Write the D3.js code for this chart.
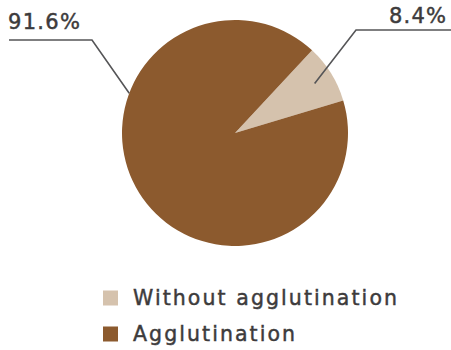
<!DOCTYPE html>
<html>
<head>
<meta charset="utf-8">
<script src="https://cdn.jsdelivr.net/npm/d3@7"></script>
<style>
  html, body { margin: 0; padding: 0; background: #fff; }
  svg { display: block; }
  text { font-family: "DejaVu Sans", sans-serif; fill: #3d3b3c; stroke: #3d3b3c; stroke-width: 0.45px; }
</style>
</head>
<body>
<svg id="chart" width="451" height="350"></svg>
<script>
// Share of samples with and without agglutination (percent)
const categories = ["Without agglutination", "Agglutination"];
const values = [8.4, 91.6];
const valueLabels = ["8.4%", "91.6%"];
const colors = ["#d5c2ad", "#8c5a2e"];

const svg = d3.select("#chart");
const cx = 235, cy = 133, radius = 113;
const startDeg = 43;

const color = d3.scaleOrdinal().domain(categories).range(colors);

const pie = d3.pie()
  .sort(null)
  .value(d => d.value)
  .startAngle(startDeg * Math.PI / 180)
  .endAngle(startDeg * Math.PI / 180 + 2 * Math.PI);

const rows = categories.map((c, i) => ({ name: c, value: values[i], label: valueLabels[i] }));
const arcs = pie(rows);

const arc = d3.arc().innerRadius(0).outerRadius(radius);

const g = svg.append("g").attr("transform", `translate(${cx},${cy})`);

g.selectAll("path.slice")
  .data(arcs)
  .join("path")
  .attr("class", "slice")
  .attr("d", arc)
  .attr("fill", d => color(d.data.name));

// Polar helper: angle measured clockwise from 12 o'clock
const polar = (a, r) => [r * Math.sin(a), -r * Math.cos(a)];

// Leader lines from a point on each slice to its percentage label
const leaders = [
  { arc: arcs[0], angle: (arcs[0].startAngle + arcs[0].endAngle) / 2, rf: 0.83,
    elbow: [356 - cx, 30 - cy], end: [451 - cx, 30 - cy], anchor: "end", tx: 446 - cx, ty: 23 - cy, w: 57 },
  { arc: arcs[1], angle: (arcs[1].startAngle + arcs[1].endAngle) / 2 + 52.5 * Math.PI / 180, rf: 1.0,
    elbow: [92 - cx, 40 - cy], end: [9 - cx, 40 - cy], anchor: "start", tx: 8 - cx, ty: 29 - cy, w: 72 }
];

leaders.forEach(l => {
  const p = polar(l.angle, radius * l.rf);
  g.append("polyline")
    .attr("points", [p, l.elbow, l.end].map(q => q.join(",")).join(" "))
    .attr("fill", "none")
    .attr("stroke", "#555557")
    .attr("stroke-width", 1.6);
  g.append("text")
    .attr("x", l.tx)
    .attr("y", l.ty)
    .attr("text-anchor", l.anchor)
    .attr("font-size", 21)
    .attr("textLength", l.w)
    .attr("lengthAdjust", "spacing")
    .text(l.arc.data.label);
});

// Legend
const legend = svg.append("g").attr("transform", "translate(103,0)");
const legendY = d3.scalePoint().domain(categories).range([298, 334]);
const legendWidths = [264, 162];

const items = legend.selectAll("g.item")
  .data(categories)
  .join("g")
  .attr("class", "item")
  .attr("transform", d => `translate(0,${legendY(d)})`);

items.append("rect")
  .attr("x", 0)
  .attr("y", -7.5)
  .attr("width", 15)
  .attr("height", 15)
  .attr("fill", d => color(d));

items.append("text")
  .attr("x", 30)
  .attr("y", 7)
  .attr("font-size", 20.5)
  .attr("textLength", (d, i) => legendWidths[i])
  .attr("lengthAdjust", "spacing")
  .text(d => d);
</script>
</body>
</html>
